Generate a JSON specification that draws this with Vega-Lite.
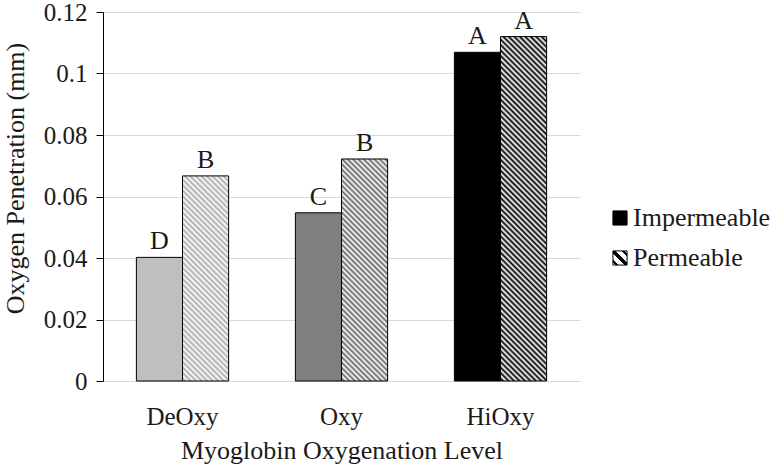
{
"$schema": "https://vega.github.io/schema/vega-lite/v6.json",
"width": 477,
"height": 369,
"autosize": {"type": "none"},
"padding": {"left": 103, "top": 12, "right": 196, "bottom": 86},
"background": "#ffffff",
"config": {"font": "Liberation Serif", "view": {"stroke": null}, "axis": {"labelFont": "Liberation Serif", "titleFont": "Liberation Serif"}, "legend": {"labelFont": "Liberation Serif", "titleFont": "Liberation Serif"}, "text": {"font": "Liberation Serif"}},
"data": {"values": [
{"level": "DeOxy", "type": "Impermeable", "value": 0.0402, "letter": "D"},
{"level": "DeOxy", "type": "Permeable", "value": 0.0667, "letter": "B"},
{"level": "Oxy", "type": "Impermeable", "value": 0.0547, "letter": "C"},
{"level": "Oxy", "type": "Permeable", "value": 0.0722, "letter": "B"},
{"level": "HiOxy", "type": "Impermeable", "value": 0.1069, "letter": "A"},
{"level": "HiOxy", "type": "Permeable", "value": 0.112, "letter": "A"}
]},
"encoding": {
"x": {"field": "level", "type": "nominal", "sort": ["DeOxy", "Oxy", "HiOxy"], "scale": {"paddingInner": 0.42, "paddingOuter": 0.21},
 "axis": {"title": "Myoglobin Oxygenation Level", "labelAngle": 0, "ticks": false, "tickSize": 0, "labelPadding": 23, "labelFont": "Liberation Serif", "labelFontSize": 25, "labelColor": "#1a1a1a", "domainColor": "#d9d9d9", "domainWidth": 1, "grid": false, "titleFont": "Liberation Serif", "titleFontSize": 26, "titleFontWeight": "normal", "titleColor": "#1a1a1a", "titleBaseline": "alphabetic", "titleY": 77}},
"xOffset": {"field": "type", "type": "nominal", "scale": {"domain": ["Impermeable", "Permeable"], "paddingInner": 0, "paddingOuter": 0}},
"y": {"field": "value", "type": "quantitative", "scale": {"domain": [0, 0.12], "nice": false, "zero": true},
 "axis": {"title": "Oxygen Penetration (mm)", "values": [0, 0.02, 0.04, 0.06, 0.08, 0.1, 0.12], "format": ".2~f", "labelFont": "Liberation Serif", "labelFontSize": 25, "labelColor": "#1a1a1a", "labelPadding": 9, "tickSize": 7, "tickColor": "#000000", "domainColor": "#000000", "gridColor": "#d9d9d9", "titleFont": "Liberation Serif", "titleFontSize": 26, "titleFontWeight": "normal", "titleColor": "#1a1a1a", "titleX": -88, "titleY": 166, "titleBaseline": "middle", "titleAlign": "center", "titleAngle": 270}}
},
"layer": [
{"transform": [{"filter": "datum.level=='HiOxy'&&datum.type=='Impermeable'"}],
 "mark": {"type": "bar", "stroke": "#000000", "strokeWidth": 1},
 "encoding": {"fill": {"field": "type", "type": "nominal",
  "scale": {"domain": ["Impermeable", "Permeable"], "range": ["#000000", {"expr": "{gradient:'linear',x1:0,y1:1,x2:1,y2:0,stops:[{offset:0,color:'#fff'},{offset:0.08,color:'#fff'},{offset:0.08,color:'#000'},{offset:0.2,color:'#000'},{offset:0.2,color:'#fff'},{offset:0.42,color:'#fff'},{offset:0.42,color:'#000'},{offset:0.58,color:'#000'},{offset:0.58,color:'#fff'},{offset:0.8,color:'#fff'},{offset:0.8,color:'#000'},{offset:0.92,color:'#000'},{offset:0.92,color:'#fff'},{offset:1,color:'#fff'}]}"}]},
  "legend": {"title": null, "orient": "none", "legendX": 504, "legendY": 193, "padding": 0, "symbolType": "square", "symbolSize": 200, "symbolStrokeColor": "#000000", "symbolStrokeWidth": 1, "symbolOpacity": 1, "labelFont": "Liberation Serif", "labelFontSize": 26, "labelColor": "#1a1a1a", "labelOffset": 0, "rowPadding": 14}}}},
{"transform": [{"filter": "datum.level=='DeOxy'&&datum.type=='Impermeable'"}],
 "mark": {"type": "bar", "fill": "#bfbfbf", "stroke": "#000000", "strokeWidth": 1}},
{"transform": [{"filter": "datum.level=='Oxy'&&datum.type=='Impermeable'"}],
 "mark": {"type": "bar", "fill": "#7f7f7f", "stroke": "#000000", "strokeWidth": 1}},
{"transform": [{"filter": "datum.level=='DeOxy'&&datum.type=='Permeable'"}],
 "mark": {"type": "bar", "stroke": "#000000", "strokeWidth": 1, "fill": {"gradient": "linear", "x1": 0, "y1": 1, "x2": 0.262, "y2": -0.1658, "stops": [
{"offset":0,"color":"#fff"},{"offset":0.011,"color":"#aaa"},{"offset":0.022,"color":"#fff"},{"offset":0.033,"color":"#aaa"},{"offset":0.044,"color":"#fff"},{"offset":0.055,"color":"#aaa"},{"offset":0.066,"color":"#fff"},{"offset":0.077,"color":"#aaa"},{"offset":0.088,"color":"#fff"},{"offset":0.099,"color":"#aaa"},
{"offset":0.11,"color":"#fff"},{"offset":0.121,"color":"#aaa"},{"offset":0.132,"color":"#fff"},{"offset":0.143,"color":"#aaa"},{"offset":0.154,"color":"#fff"},{"offset":0.165,"color":"#aaa"},{"offset":0.176,"color":"#fff"},{"offset":0.187,"color":"#aaa"},{"offset":0.198,"color":"#fff"},{"offset":0.209,"color":"#aaa"},
{"offset":0.22,"color":"#fff"},{"offset":0.231,"color":"#aaa"},{"offset":0.242,"color":"#fff"},{"offset":0.253,"color":"#aaa"},{"offset":0.264,"color":"#fff"},{"offset":0.275,"color":"#aaa"},{"offset":0.286,"color":"#fff"},{"offset":0.297,"color":"#aaa"},{"offset":0.308,"color":"#fff"},{"offset":0.319,"color":"#aaa"},
{"offset":0.33,"color":"#fff"},{"offset":0.341,"color":"#aaa"},{"offset":0.352,"color":"#fff"},{"offset":0.363,"color":"#aaa"},{"offset":0.374,"color":"#fff"},{"offset":0.385,"color":"#aaa"},{"offset":0.396,"color":"#fff"},{"offset":0.407,"color":"#aaa"},{"offset":0.418,"color":"#fff"},{"offset":0.429,"color":"#aaa"},
{"offset":0.44,"color":"#fff"},{"offset":0.451,"color":"#aaa"},{"offset":0.462,"color":"#fff"},{"offset":0.473,"color":"#aaa"},{"offset":0.484,"color":"#fff"},{"offset":0.495,"color":"#aaa"},{"offset":0.506,"color":"#fff"},{"offset":0.517,"color":"#aaa"},{"offset":0.528,"color":"#fff"},{"offset":0.539,"color":"#aaa"},
{"offset":0.55,"color":"#fff"},{"offset":0.561,"color":"#aaa"},{"offset":0.572,"color":"#fff"},{"offset":0.583,"color":"#aaa"},{"offset":0.594,"color":"#fff"},{"offset":0.605,"color":"#aaa"},{"offset":0.616,"color":"#fff"},{"offset":0.627,"color":"#aaa"},{"offset":0.638,"color":"#fff"},{"offset":0.649,"color":"#aaa"},
{"offset":0.66,"color":"#fff"},{"offset":0.671,"color":"#aaa"},{"offset":0.682,"color":"#fff"},{"offset":0.693,"color":"#aaa"},{"offset":0.704,"color":"#fff"},{"offset":0.715,"color":"#aaa"},{"offset":0.726,"color":"#fff"},{"offset":0.737,"color":"#aaa"},{"offset":0.748,"color":"#fff"},{"offset":0.759,"color":"#aaa"},
{"offset":0.77,"color":"#fff"},{"offset":0.781,"color":"#aaa"},{"offset":0.792,"color":"#fff"},{"offset":0.803,"color":"#aaa"},{"offset":0.814,"color":"#fff"},{"offset":0.825,"color":"#aaa"},{"offset":0.836,"color":"#fff"},{"offset":0.847,"color":"#aaa"},{"offset":0.858,"color":"#fff"},{"offset":0.869,"color":"#aaa"},
{"offset":0.88,"color":"#fff"},{"offset":0.891,"color":"#aaa"},{"offset":0.902,"color":"#fff"},{"offset":0.913,"color":"#aaa"},{"offset":0.924,"color":"#fff"},{"offset":0.935,"color":"#aaa"},{"offset":0.946,"color":"#fff"},{"offset":0.957,"color":"#aaa"},{"offset":0.968,"color":"#fff"},{"offset":0.979,"color":"#aaa"},
{"offset":0.99,"color":"#fff"},{"offset":1,"color":"#aaa"}]}}},
{"transform": [{"filter": "datum.level=='Oxy'&&datum.type=='Permeable'"}],
 "mark": {"type": "bar", "stroke": "#000000", "strokeWidth": 1, "fill": {"gradient": "linear", "x1": 0, "y1": 1, "x2": 0.2404, "y2": -0.1577, "stops": [
{"offset":0,"color":"#fff"},{"offset":0.01,"color":"#666"},{"offset":0.02,"color":"#fff"},{"offset":0.03,"color":"#666"},{"offset":0.04,"color":"#fff"},{"offset":0.05,"color":"#666"},{"offset":0.06,"color":"#fff"},{"offset":0.07,"color":"#666"},{"offset":0.08,"color":"#fff"},{"offset":0.09,"color":"#666"},
{"offset":0.1,"color":"#fff"},{"offset":0.11,"color":"#666"},{"offset":0.12,"color":"#fff"},{"offset":0.13,"color":"#666"},{"offset":0.14,"color":"#fff"},{"offset":0.15,"color":"#666"},{"offset":0.16,"color":"#fff"},{"offset":0.17,"color":"#666"},{"offset":0.18,"color":"#fff"},{"offset":0.19,"color":"#666"},
{"offset":0.2,"color":"#fff"},{"offset":0.21,"color":"#666"},{"offset":0.22,"color":"#fff"},{"offset":0.23,"color":"#666"},{"offset":0.24,"color":"#fff"},{"offset":0.25,"color":"#666"},{"offset":0.26,"color":"#fff"},{"offset":0.27,"color":"#666"},{"offset":0.28,"color":"#fff"},{"offset":0.29,"color":"#666"},
{"offset":0.3,"color":"#fff"},{"offset":0.31,"color":"#666"},{"offset":0.32,"color":"#fff"},{"offset":0.33,"color":"#666"},{"offset":0.34,"color":"#fff"},{"offset":0.35,"color":"#666"},{"offset":0.36,"color":"#fff"},{"offset":0.37,"color":"#666"},{"offset":0.38,"color":"#fff"},{"offset":0.39,"color":"#666"},
{"offset":0.4,"color":"#fff"},{"offset":0.41,"color":"#666"},{"offset":0.42,"color":"#fff"},{"offset":0.43,"color":"#666"},{"offset":0.44,"color":"#fff"},{"offset":0.45,"color":"#666"},{"offset":0.46,"color":"#fff"},{"offset":0.47,"color":"#666"},{"offset":0.48,"color":"#fff"},{"offset":0.49,"color":"#666"},
{"offset":0.5,"color":"#fff"},{"offset":0.51,"color":"#666"},{"offset":0.52,"color":"#fff"},{"offset":0.53,"color":"#666"},{"offset":0.54,"color":"#fff"},{"offset":0.55,"color":"#666"},{"offset":0.56,"color":"#fff"},{"offset":0.57,"color":"#666"},{"offset":0.58,"color":"#fff"},{"offset":0.59,"color":"#666"},
{"offset":0.6,"color":"#fff"},{"offset":0.61,"color":"#666"},{"offset":0.62,"color":"#fff"},{"offset":0.63,"color":"#666"},{"offset":0.64,"color":"#fff"},{"offset":0.65,"color":"#666"},{"offset":0.66,"color":"#fff"},{"offset":0.67,"color":"#666"},{"offset":0.68,"color":"#fff"},{"offset":0.69,"color":"#666"},
{"offset":0.7,"color":"#fff"},{"offset":0.71,"color":"#666"},{"offset":0.72,"color":"#fff"},{"offset":0.73,"color":"#666"},{"offset":0.74,"color":"#fff"},{"offset":0.75,"color":"#666"},{"offset":0.76,"color":"#fff"},{"offset":0.77,"color":"#666"},{"offset":0.78,"color":"#fff"},{"offset":0.79,"color":"#666"},
{"offset":0.8,"color":"#fff"},{"offset":0.81,"color":"#666"},{"offset":0.82,"color":"#fff"},{"offset":0.83,"color":"#666"},{"offset":0.84,"color":"#fff"},{"offset":0.85,"color":"#666"},{"offset":0.86,"color":"#fff"},{"offset":0.87,"color":"#666"},{"offset":0.88,"color":"#fff"},{"offset":0.89,"color":"#666"},
{"offset":0.9,"color":"#fff"},{"offset":0.91,"color":"#666"},{"offset":0.92,"color":"#fff"},{"offset":0.93,"color":"#666"},{"offset":0.94,"color":"#fff"},{"offset":0.95,"color":"#666"},{"offset":0.96,"color":"#fff"},{"offset":0.97,"color":"#666"},{"offset":0.98,"color":"#fff"},{"offset":0.99,"color":"#666"},
{"offset":1,"color":"#fff"}]}}},
{"transform": [{"filter": "datum.level=='HiOxy'&&datum.type=='Permeable'"}],
 "mark": {"type": "bar", "stroke": "#000000", "strokeWidth": 1, "fill": {"gradient": "linear", "x1": 0, "y1": 1, "x2": 0.1491, "y2": -0.1139, "stops": [
{"offset":0,"color":"#fff"},{"offset":0.007,"color":"#000"},{"offset":0.014,"color":"#fff"},{"offset":0.021,"color":"#000"},{"offset":0.028,"color":"#fff"},{"offset":0.035,"color":"#000"},{"offset":0.042,"color":"#fff"},{"offset":0.049,"color":"#000"},{"offset":0.056,"color":"#fff"},{"offset":0.063,"color":"#000"},
{"offset":0.07,"color":"#fff"},{"offset":0.077,"color":"#000"},{"offset":0.084,"color":"#fff"},{"offset":0.091,"color":"#000"},{"offset":0.098,"color":"#fff"},{"offset":0.105,"color":"#000"},{"offset":0.112,"color":"#fff"},{"offset":0.119,"color":"#000"},{"offset":0.126,"color":"#fff"},{"offset":0.133,"color":"#000"},
{"offset":0.14,"color":"#fff"},{"offset":0.147,"color":"#000"},{"offset":0.154,"color":"#fff"},{"offset":0.161,"color":"#000"},{"offset":0.168,"color":"#fff"},{"offset":0.175,"color":"#000"},{"offset":0.182,"color":"#fff"},{"offset":0.189,"color":"#000"},{"offset":0.196,"color":"#fff"},{"offset":0.203,"color":"#000"},
{"offset":0.21,"color":"#fff"},{"offset":0.217,"color":"#000"},{"offset":0.224,"color":"#fff"},{"offset":0.231,"color":"#000"},{"offset":0.238,"color":"#fff"},{"offset":0.245,"color":"#000"},{"offset":0.252,"color":"#fff"},{"offset":0.259,"color":"#000"},{"offset":0.266,"color":"#fff"},{"offset":0.273,"color":"#000"},
{"offset":0.28,"color":"#fff"},{"offset":0.287,"color":"#000"},{"offset":0.294,"color":"#fff"},{"offset":0.301,"color":"#000"},{"offset":0.308,"color":"#fff"},{"offset":0.315,"color":"#000"},{"offset":0.322,"color":"#fff"},{"offset":0.329,"color":"#000"},{"offset":0.336,"color":"#fff"},{"offset":0.343,"color":"#000"},
{"offset":0.35,"color":"#fff"},{"offset":0.357,"color":"#000"},{"offset":0.364,"color":"#fff"},{"offset":0.371,"color":"#000"},{"offset":0.378,"color":"#fff"},{"offset":0.385,"color":"#000"},{"offset":0.392,"color":"#fff"},{"offset":0.399,"color":"#000"},{"offset":0.406,"color":"#fff"},{"offset":0.413,"color":"#000"},
{"offset":0.42,"color":"#fff"},{"offset":0.427,"color":"#000"},{"offset":0.434,"color":"#fff"},{"offset":0.441,"color":"#000"},{"offset":0.448,"color":"#fff"},{"offset":0.455,"color":"#000"},{"offset":0.462,"color":"#fff"},{"offset":0.469,"color":"#000"},{"offset":0.476,"color":"#fff"},{"offset":0.483,"color":"#000"},
{"offset":0.49,"color":"#fff"},{"offset":0.497,"color":"#000"},{"offset":0.504,"color":"#fff"},{"offset":0.511,"color":"#000"},{"offset":0.518,"color":"#fff"},{"offset":0.525,"color":"#000"},{"offset":0.532,"color":"#fff"},{"offset":0.539,"color":"#000"},{"offset":0.546,"color":"#fff"},{"offset":0.553,"color":"#000"},
{"offset":0.56,"color":"#fff"},{"offset":0.567,"color":"#000"},{"offset":0.574,"color":"#fff"},{"offset":0.581,"color":"#000"},{"offset":0.588,"color":"#fff"},{"offset":0.595,"color":"#000"},{"offset":0.602,"color":"#fff"},{"offset":0.609,"color":"#000"},{"offset":0.616,"color":"#fff"},{"offset":0.623,"color":"#000"},
{"offset":0.63,"color":"#fff"},{"offset":0.637,"color":"#000"},{"offset":0.644,"color":"#fff"},{"offset":0.651,"color":"#000"},{"offset":0.658,"color":"#fff"},{"offset":0.665,"color":"#000"},{"offset":0.672,"color":"#fff"},{"offset":0.679,"color":"#000"},{"offset":0.686,"color":"#fff"},{"offset":0.693,"color":"#000"},
{"offset":0.7,"color":"#fff"},{"offset":0.707,"color":"#000"},{"offset":0.714,"color":"#fff"},{"offset":0.721,"color":"#000"},{"offset":0.728,"color":"#fff"},{"offset":0.735,"color":"#000"},{"offset":0.742,"color":"#fff"},{"offset":0.749,"color":"#000"},{"offset":0.756,"color":"#fff"},{"offset":0.763,"color":"#000"},
{"offset":0.77,"color":"#fff"},{"offset":0.777,"color":"#000"},{"offset":0.784,"color":"#fff"},{"offset":0.791,"color":"#000"},{"offset":0.798,"color":"#fff"},{"offset":0.805,"color":"#000"},{"offset":0.812,"color":"#fff"},{"offset":0.819,"color":"#000"},{"offset":0.826,"color":"#fff"},{"offset":0.833,"color":"#000"},
{"offset":0.84,"color":"#fff"},{"offset":0.847,"color":"#000"},{"offset":0.854,"color":"#fff"},{"offset":0.861,"color":"#000"},{"offset":0.868,"color":"#fff"},{"offset":0.875,"color":"#000"},{"offset":0.882,"color":"#fff"},{"offset":0.889,"color":"#000"},{"offset":0.896,"color":"#fff"},{"offset":0.903,"color":"#000"},
{"offset":0.91,"color":"#fff"},{"offset":0.917,"color":"#000"},{"offset":0.924,"color":"#fff"},{"offset":0.931,"color":"#000"},{"offset":0.938,"color":"#fff"},{"offset":0.945,"color":"#000"},{"offset":0.952,"color":"#fff"},{"offset":0.959,"color":"#000"},{"offset":0.966,"color":"#fff"},{"offset":0.973,"color":"#000"},
{"offset":0.98,"color":"#fff"},{"offset":0.987,"color":"#000"},{"offset":0.994,"color":"#fff"},{"offset":1,"color":"#000"}]}}},
{"mark": {"type": "text", "baseline": "alphabetic", "dy": -8, "font": "Liberation Serif", "fontSize": 26, "color": "#1a1a1a"},
 "encoding": {"text": {"field": "letter", "type": "nominal"}}}
]
}
